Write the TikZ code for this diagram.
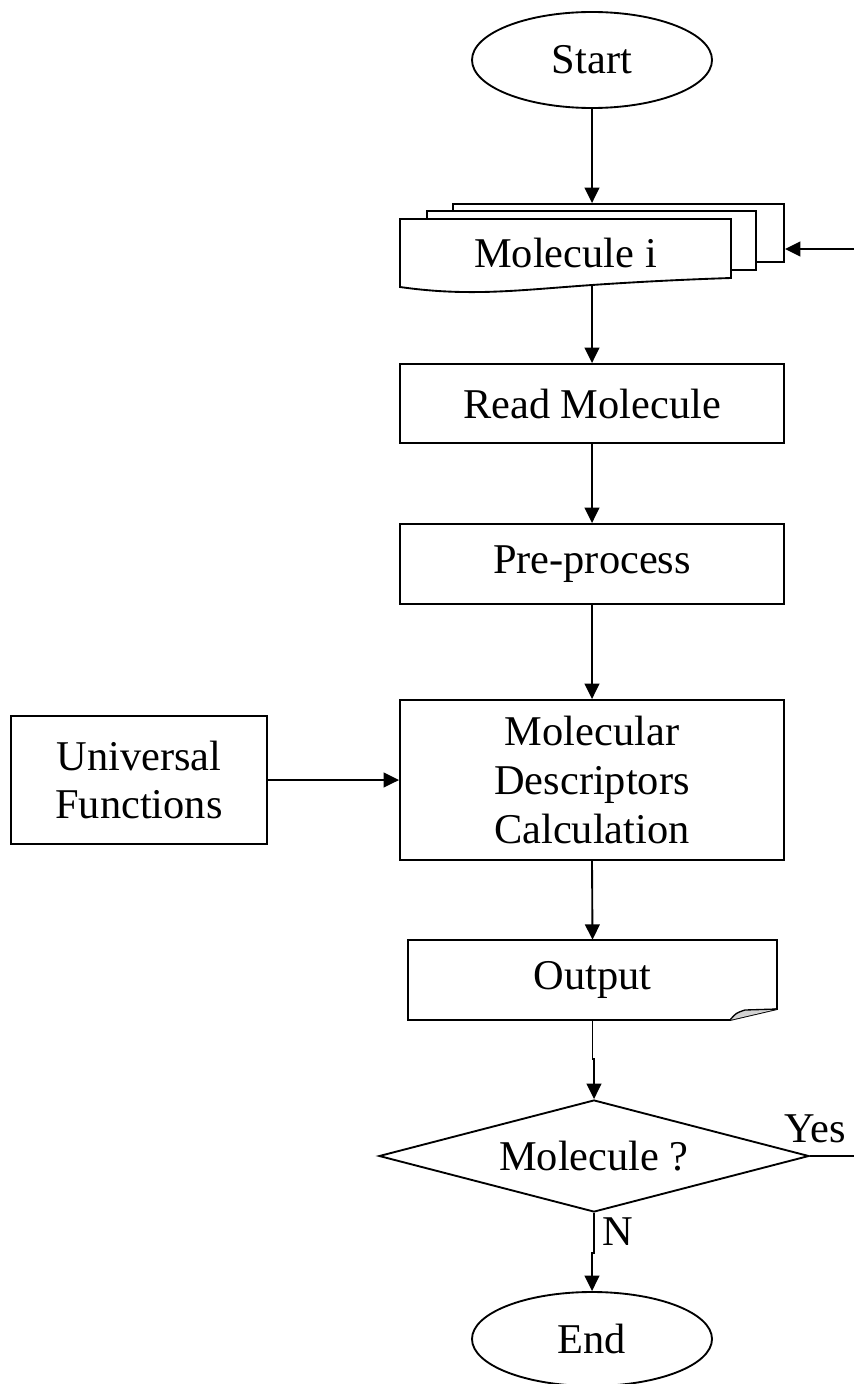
\documentclass[tikz,border=0pt]{standalone}
\usepackage{fontspec}
\setmainfont{Liberation Serif}
\usetikzlibrary{shapes.geometric,arrows.meta}
\begin{document}
\begin{tikzpicture}[x=0.75pt,y=-0.75pt,
  every node/.style={font=\fontsize{31.8}{36.4}\selectfont, inner sep=0pt},
  conn/.style={line width=1.4pt, line join=miter},
  arr/.style={conn, -{Triangle[length=11.5pt,width=11pt]}},
  boxnode/.style={draw, conn, rectangle, align=center, fill=white},
  term/.style={draw, conn, ellipse, minimum width=180pt},
]
\useasboundingbox (0,0) rectangle (854,1384);
% terminals
\node[term, minimum height=72pt] (start) at (592,60) {Start};
\node[term, minimum height=70.5pt] (end) at (592,1339) {End};
% multi-document stack
\node[draw, conn, fill=white, minimum width=248.25pt, minimum height=43.5pt] (doc3) at (618.5,233) {};
\node[draw, conn, fill=white, minimum width=246.75pt, minimum height=44.25pt] (doc2) at (591.5,240.5) {};
\draw[conn, fill=white] (400,219) -- (731,219) -- (731,278)
  .. controls (700,279) and (650,281) .. (592,285)
  .. controls (520,290) and (470,297) .. (400,287) -- cycle;
\node[minimum width=248.25pt, minimum height=50.25pt] (doc1) at (565.5,252.5) {Molecule i};
% process boxes
\node[boxnode, minimum width=288pt, minimum height=59.25pt] (read) at (592,403.5) {Read Molecule};
\node[boxnode, minimum width=288pt, minimum height=60pt] (pre) at (592,564) {Pre-process};
\node[boxnode, minimum width=288pt, minimum height=120pt] (mol) at (592,780) {Molecular\\Descriptors\\Calculation};
\node[boxnode, minimum width=192pt, minimum height=96pt] (uni) at (139,780) {Universal\\Functions};
% output document
\draw[conn, fill=white] (408,940) -- (777,940) -- (777,1009) -- (730,1020) -- (408,1020) -- cycle;
\fill[gray!35] (730,1020) .. controls (736,1013) .. (745,1010) -- (777,1009) -- cycle;
\draw[line width=1pt] (730,1020) .. controls (736,1013) .. (745,1010) -- (777,1009);
\node[minimum width=276.75pt, minimum height=60pt] (out) at (592.5,980) {Output};
% decision
\node[draw, conn, diamond, aspect=3.84, minimum width=322.5pt, minimum height=84pt] (dec) at (594,1156) {Molecule ?};
\node[anchor=base] (yes) at (815,1142) {Yes};
\node[anchor=base west] (n) at (602,1245) {N};
% free ends
\coordinate (loopin) at (854,249);
\coordinate (yesend) at (854,1156);
% connectors
\draw[arr] (start.south) -- (start.south |- doc3.north);
\draw[arr] (read.north |- doc1.south) -- (read.north);
\draw[arr] (read.south) -- (pre.north);
\draw[arr] (pre.south) -- (mol.north);
\draw[arr] (uni.east) -- (mol.west);
\draw[arr] (mol.south) -- (out.north);
\draw[arr] (out.south) -- ++(0,39) -| (dec.north);
\draw[arr] (dec.south) -- ++(0,40) -| (end.north);
\draw[conn] (dec.east) -- (yesend);
\draw[arr] (loopin) -- (loopin -| doc3.east);
\end{tikzpicture}
\end{document}
